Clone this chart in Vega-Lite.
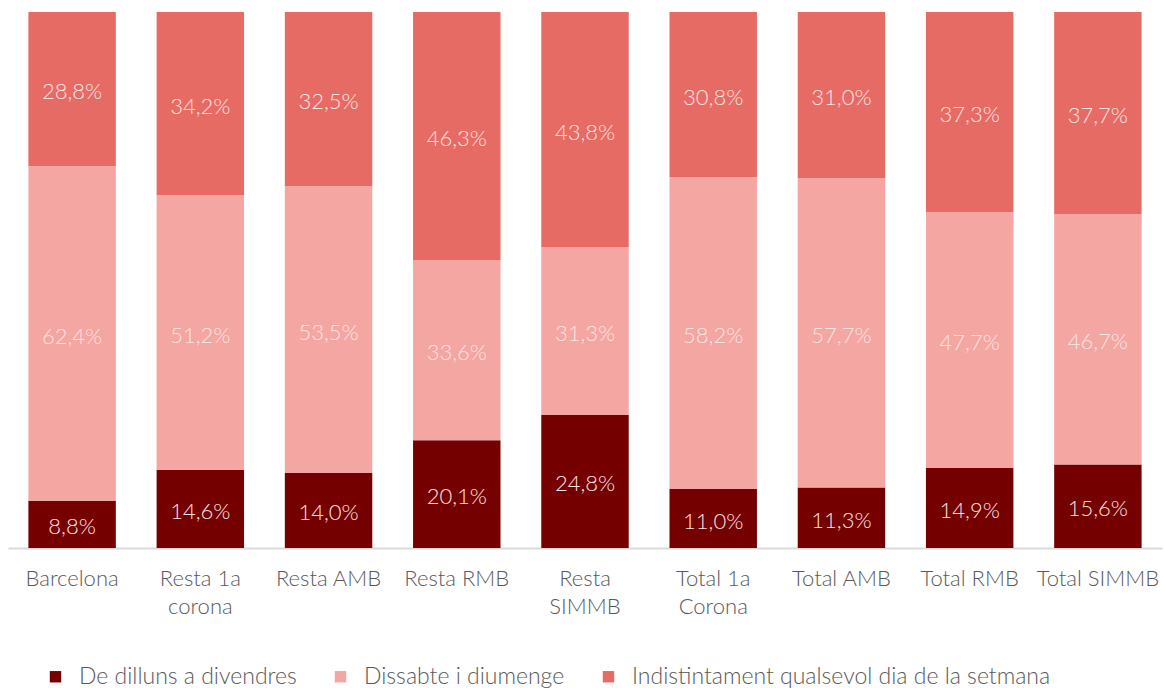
{
  "$schema": "https://vega.github.io/schema/vega-lite/v6.json",
  "width": 1154,
  "height": 536,
  "autosize": {"type": "none"},
  "padding": {"left": 8, "top": 12, "right": 3, "bottom": 140},
  "background": "white",
  "config": {
    "view": {"stroke": null},
    "font": "Lato",
    "locale": {"number": {"decimal": ",", "thousands": ".", "grouping": [3], "currency": ["", " €"]}}
  },
  "data": {
    "values": [
      {"cat": "Barcelona", "serie": "De dilluns a divendres", "ord": 1, "v": 0.088},
      {"cat": "Barcelona", "serie": "Dissabte i diumenge", "ord": 2, "v": 0.624},
      {"cat": "Barcelona", "serie": "Indistintament qualsevol dia de la setmana", "ord": 3, "v": 0.288},
      {"cat": "Resta 1a|corona", "serie": "De dilluns a divendres", "ord": 1, "v": 0.146},
      {"cat": "Resta 1a|corona", "serie": "Dissabte i diumenge", "ord": 2, "v": 0.512},
      {"cat": "Resta 1a|corona", "serie": "Indistintament qualsevol dia de la setmana", "ord": 3, "v": 0.342},
      {"cat": "Resta AMB", "serie": "De dilluns a divendres", "ord": 1, "v": 0.140},
      {"cat": "Resta AMB", "serie": "Dissabte i diumenge", "ord": 2, "v": 0.535},
      {"cat": "Resta AMB", "serie": "Indistintament qualsevol dia de la setmana", "ord": 3, "v": 0.325},
      {"cat": "Resta RMB", "serie": "De dilluns a divendres", "ord": 1, "v": 0.201},
      {"cat": "Resta RMB", "serie": "Dissabte i diumenge", "ord": 2, "v": 0.336},
      {"cat": "Resta RMB", "serie": "Indistintament qualsevol dia de la setmana", "ord": 3, "v": 0.463},
      {"cat": "Resta|SIMMB", "serie": "De dilluns a divendres", "ord": 1, "v": 0.248},
      {"cat": "Resta|SIMMB", "serie": "Dissabte i diumenge", "ord": 2, "v": 0.313},
      {"cat": "Resta|SIMMB", "serie": "Indistintament qualsevol dia de la setmana", "ord": 3, "v": 0.438},
      {"cat": "Total 1a|Corona", "serie": "De dilluns a divendres", "ord": 1, "v": 0.110},
      {"cat": "Total 1a|Corona", "serie": "Dissabte i diumenge", "ord": 2, "v": 0.582},
      {"cat": "Total 1a|Corona", "serie": "Indistintament qualsevol dia de la setmana", "ord": 3, "v": 0.308},
      {"cat": "Total AMB", "serie": "De dilluns a divendres", "ord": 1, "v": 0.113},
      {"cat": "Total AMB", "serie": "Dissabte i diumenge", "ord": 2, "v": 0.577},
      {"cat": "Total AMB", "serie": "Indistintament qualsevol dia de la setmana", "ord": 3, "v": 0.310},
      {"cat": "Total RMB", "serie": "De dilluns a divendres", "ord": 1, "v": 0.149},
      {"cat": "Total RMB", "serie": "Dissabte i diumenge", "ord": 2, "v": 0.477},
      {"cat": "Total RMB", "serie": "Indistintament qualsevol dia de la setmana", "ord": 3, "v": 0.373},
      {"cat": "Total SIMMB", "serie": "De dilluns a divendres", "ord": 1, "v": 0.156},
      {"cat": "Total SIMMB", "serie": "Dissabte i diumenge", "ord": 2, "v": 0.467},
      {"cat": "Total SIMMB", "serie": "Indistintament qualsevol dia de la setmana", "ord": 3, "v": 0.377}
    ]
  },
  "transform": [
    {"stack": "v", "groupby": ["cat"], "sort": [{"field": "ord", "order": "ascending"}], "offset": "normalize", "as": ["y0", "y1"]},
    {"calculate": "(datum.y0 + datum.y1) / 2", "as": "mid"}
  ],
  "encoding": {
    "x": {
      "field": "cat",
      "type": "nominal",
      "sort": null,
      "scale": {"paddingInner": 0.318, "paddingOuter": 0.159},
      "axis": {
        "title": null,
        "labelAngle": 0,
        "labelExpr": "split(datum.value, '|')",
        "labelFontSize": 22,
        "labelColor": "#595959",
        "labelPadding": 20,
        "labelLineHeight": 28,
        "labelFontWeight": 300,
        "ticks": false,
        "domainColor": "#D9D9D9",
        "domainWidth": 2,
        "grid": false
      }
    }
  },
  "layer": [
    {
      "mark": {"type": "bar"},
      "encoding": {
        "y": {"field": "y0", "type": "quantitative", "scale": {"domain": [0, 1]}, "axis": null},
        "y2": {"field": "y1"},
        "color": {
          "field": "serie",
          "type": "nominal",
          "scale": {
            "domain": ["De dilluns a divendres", "Dissabte i diumenge", "Indistintament qualsevol dia de la setmana"],
            "range": ["#750000", "#F4A6A2", "#E76B65"]
          },
          "legend": {
            "orient": "none",
            "legendX": 36,
            "legendY": 653,
            "direction": "horizontal",
            "title": null,
            "symbolType": "square",
            "symbolSize": 130,
            "symbolStrokeWidth": 0,
            "labelFontSize": 23,
            "labelFontWeight": 300,
            "labelColor": "#595959",
            "labelLimit": 700,
            "labelOffset": 12,
            "columnPadding": 32
          }
        }
      }
    },
    {
      "mark": {"type": "text", "fontSize": 22, "fontWeight": 300, "color": "#FCE4E2", "dy": 3},
      "encoding": {
        "y": {"field": "mid", "type": "quantitative", "scale": {"domain": [0, 1]}},
        "text": {"field": "v", "type": "quantitative", "format": ".1%"}
      }
    }
  ]
}
